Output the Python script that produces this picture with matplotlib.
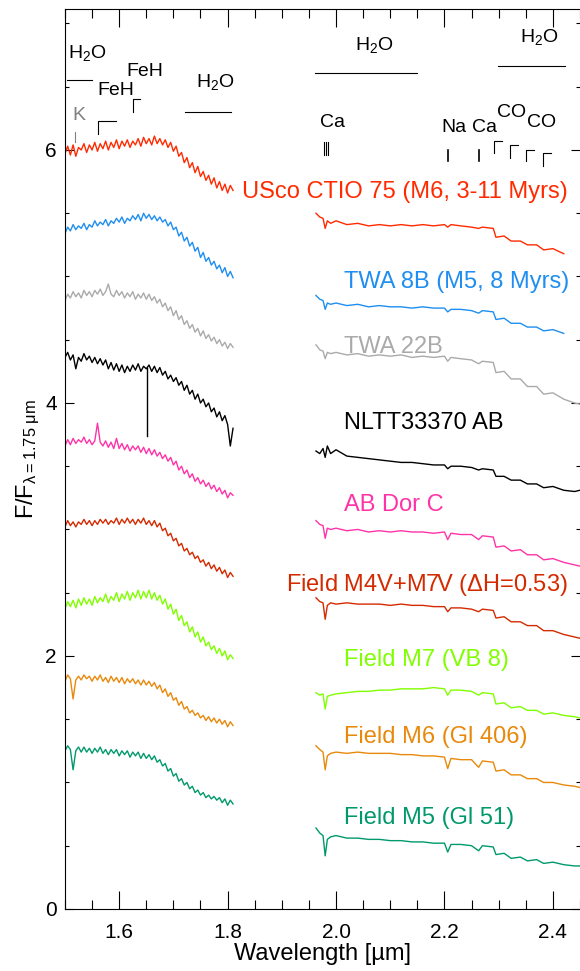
import matplotlib
matplotlib.use("Agg")
import matplotlib.pyplot as plt
import numpy as np

plt.rcParams['font.family'] = ['Liberation Sans', 'DejaVu Sans']
plt.rcParams['mathtext.fontset'] = 'custom'
plt.rcParams['mathtext.rm'] = 'Liberation Sans'
plt.rcParams['mathtext.it'] = 'Liberation Sans'

# wavelength grids (micron)
wl_h = [1.500, 1.505, 1.510, 1.515, 1.520, 1.525, 1.530, 1.535, 1.540, 1.545,
        1.550, 1.555, 1.560, 1.565, 1.570, 1.575, 1.580, 1.585, 1.590, 1.595,
        1.600, 1.605, 1.610, 1.615, 1.620, 1.625, 1.630, 1.635, 1.640, 1.645,
        1.650, 1.655, 1.660, 1.665, 1.670, 1.675, 1.680, 1.685, 1.690, 1.695,
        1.700, 1.705, 1.710, 1.715, 1.720, 1.725, 1.730, 1.735, 1.740, 1.745,
        1.750, 1.755, 1.760, 1.765, 1.770, 1.775, 1.780, 1.785, 1.790, 1.795,
        1.800, 1.805, 1.810]
wl_k = [1.963, 1.970, 1.976, 1.980, 1.984, 1.990, 2.000, 2.02, 2.04, 2.06,
        2.08, 2.10, 2.12, 2.14, 2.16, 2.18, 2.20, 2.206, 2.212, 2.23,
        2.25, 2.263, 2.27, 2.29, 2.295, 2.31, 2.323, 2.34, 2.353, 2.37,
        2.383, 2.40, 2.42, 2.44, 2.45]
nan = np.nan

# offset fluxes, H band then K band
usco_h = [5.97, 6.03, 5.96, 6.04, 5.95, 6.02, 6.00, 6.05, 5.98, 6.04,
          6.00, 6.06, 5.99, 6.05, 6.01, 6.07, 6.00, 6.06, 6.02, 6.08,
          6.01, 6.07, 6.03, 6.08, 6.02, 6.07, 6.04, 6.09, 6.03, 6.10,
          6.05, 6.09, 6.04, 6.11, 6.05, 6.09, 6.04, 6.08, 6.02, 6.06,
          5.99, 6.03, 5.95, 5.98, 5.90, 5.94, 5.86, 5.90, 5.82, 5.87,
          5.79, 5.83, 5.76, 5.80, 5.73, 5.78, 5.70, 5.75, 5.68, 5.73,
          5.66, 5.72, 5.68]
usco_k = [5.50, 5.47, 5.46, 5.38, 5.44, 5.42, 5.44, 5.41, 5.42, 5.40,
          5.41, 5.40, 5.41, 5.40, 5.41, 5.40, 5.41, 5.39, 5.41, 5.40,
          5.39, 5.38, 5.39, 5.38, 5.31, 5.32, 5.28, 5.28, 5.25, 5.25,
          5.21, 5.22, 5.18, nan, nan]
twa8b_h = [5.34, 5.39, 5.36, 5.41, 5.37, 5.40, 5.38, 5.42, 5.37, 5.41,
           5.39, 5.44, 5.40, 5.43, 5.41, 5.45, 5.40, 5.44, 5.42, 5.46,
           5.43, 5.47, 5.42, 5.46, 5.44, 5.48, 5.45, 5.49, 5.44, 5.50,
           5.46, 5.49, 5.45, 5.48, 5.44, 5.47, 5.43, 5.45, 5.40, 5.43,
           5.37, 5.39, 5.32, 5.35, 5.28, 5.31, 5.24, 5.27, 5.20, 5.23,
           5.15, 5.19, 5.12, 5.15, 5.09, 5.12, 5.06, 5.09, 5.03, 5.07,
           5.00, 5.04, 4.99]
twa8b_k = [4.85, 4.82, 4.81, 4.74, 4.79, 4.78, 4.79, 4.77, 4.78, 4.76,
           4.77, 4.76, 4.76, 4.75, 4.76, 4.75, 4.75, 4.72, 4.74, 4.74,
           4.73, 4.71, 4.73, 4.72, 4.66, 4.67, 4.63, 4.63, 4.60, 4.60,
           4.57, 4.58, 4.55, nan, nan]
twa22b_h = [4.81, 4.86, 4.83, 4.88, 4.84, 4.87, 4.83, 4.89, 4.85, 4.88,
            4.84, 4.89, 4.86, 4.90, 4.85, 4.88, 4.94, 4.86, 4.84, 4.89,
            4.85, 4.88, 4.83, 4.87, 4.84, 4.88, 4.82, 4.86, 4.83, 4.87,
            4.82, 4.86, 4.81, 4.84, 4.79, 4.82, 4.76, 4.79, 4.73, 4.76,
            4.69, 4.73, 4.66, 4.69, 4.62, 4.65, 4.59, 4.62, 4.56, 4.59,
            4.53, 4.57, 4.51, 4.54, 4.49, 4.52, 4.47, 4.50, 4.45, 4.48,
            4.43, 4.47, 4.44]
twa22b_k = [4.46, 4.42, 4.41, 4.35, 4.40, 4.39, 4.40, 4.38, 4.39, 4.37,
            4.38, 4.37, 4.38, 4.36, 4.37, 4.36, 4.37, 4.33, 4.36, 4.35,
            4.34, 4.31, 4.33, 4.32, 4.24, 4.25, 4.19, 4.19, 4.13, 4.13,
            4.07, 4.08, 4.03, 4.00, 3.99]
nltt_h = [4.36, 4.40, 4.34, 4.38, 4.27, 4.36, 4.33, 4.39, 4.34, 4.37,
          4.32, 4.36, 4.31, 4.35, 4.30, 4.34, 4.27, 4.32, 4.26, 4.31,
          4.25, 4.30, 4.24, 4.29, 4.25, 4.30, 4.26, 4.31, 4.25, 4.29,
          4.27, 4.30, 4.25, 4.29, 4.24, 4.28, 4.22, 4.25, 4.19, 4.22,
          4.17, 4.20, 4.14, 4.17, 4.10, 4.14, 4.07, 4.10, 4.03, 4.07,
          4.00, 4.03, 3.97, 4.00, 3.93, 3.96, 3.89, 3.93, 3.86, 3.90,
          3.83, 3.66, 3.80]
nltt_k = [3.62, 3.60, 3.64, 3.57, 3.66, 3.60, 3.63, 3.58, 3.57, 3.56,
          3.55, 3.54, 3.53, 3.53, 3.52, 3.51, 3.51, 3.48, 3.50, 3.50,
          3.49, 3.47, 3.48, 3.47, 3.42, 3.42, 3.39, 3.39, 3.36, 3.36,
          3.33, 3.34, 3.31, 3.30, 3.31]
nltt_spike_wl = [1.651, 1.651]
nltt_spike_f = [4.28, 3.74]
abdor_h = [3.66, 3.71, 3.67, 3.72, 3.68, 3.71, 3.69, 3.73, 3.68, 3.71,
           3.67, 3.70, 3.84, 3.69, 3.66, 3.70, 3.65, 3.69, 3.64, 3.72,
           3.64, 3.68, 3.63, 3.67, 3.62, 3.66, 3.63, 3.66, 3.61, 3.65,
           3.60, 3.64, 3.59, 3.63, 3.58, 3.61, 3.56, 3.59, 3.54, 3.57,
           3.51, 3.54, 3.47, 3.50, 3.44, 3.47, 3.41, 3.44, 3.38, 3.41,
           3.36, 3.39, 3.34, 3.37, 3.32, 3.35, 3.30, 3.33, 3.28, 3.31,
           3.25, 3.29, 3.27]
abdor_k = [3.07, 3.04, 3.03, 2.93, 3.01, 3.00, 3.01, 2.99, 3.00, 2.98,
           2.99, 2.98, 2.99, 2.98, 2.98, 2.97, 2.98, 2.92, 2.97, 2.96,
           2.96, 2.92, 2.95, 2.94, 2.86, 2.87, 2.83, 2.84, 2.80, 2.80,
           2.76, 2.77, 2.74, 2.72, 2.71]
m4m7_h = [3.02, 3.07, 3.03, 3.06, 3.02, 3.06, 3.04, 3.08, 3.04, 3.07,
          3.03, 3.07, 3.04, 3.08, 3.05, 3.08, 3.04, 3.07, 3.05, 3.09,
          3.04, 3.08, 3.05, 3.09, 3.05, 3.08, 3.04, 3.08, 3.05, 3.09,
          3.04, 3.07, 3.03, 3.07, 3.02, 3.05, 2.99, 3.01, 2.95, 2.97,
          2.91, 2.93, 2.87, 2.89, 2.83, 2.85, 2.80, 2.82, 2.77, 2.79,
          2.74, 2.76, 2.71, 2.74, 2.69, 2.72, 2.67, 2.70, 2.65, 2.68,
          2.62, 2.66, 2.63]
m4m7_k = [2.46, 2.43, 2.42, 2.29, 2.40, 2.42, 2.41, 2.42, 2.41, 2.41,
          2.41, 2.40, 2.41, 2.40, 2.40, 2.39, 2.39, 2.35, 2.38, 2.38,
          2.37, 2.35, 2.37, 2.36, 2.30, 2.31, 2.27, 2.27, 2.24, 2.24,
          2.20, 2.20, 2.17, 2.15, 2.14]
vb8_h = [2.37, 2.43, 2.39, 2.44, 2.38, 2.45, 2.40, 2.46, 2.41, 2.45,
         2.40, 2.47, 2.42, 2.46, 2.43, 2.49, 2.42, 2.47, 2.44, 2.50,
         2.43, 2.49, 2.45, 2.51, 2.44, 2.50, 2.46, 2.52, 2.45, 2.51,
         2.46, 2.52, 2.45, 2.50, 2.44, 2.48, 2.41, 2.45, 2.37, 2.41,
         2.33, 2.37, 2.28, 2.32, 2.24, 2.27, 2.19, 2.23, 2.15, 2.19,
         2.11, 2.15, 2.08, 2.11, 2.05, 2.08, 2.02, 2.06, 2.00, 2.04,
         1.97, 2.01, 1.98]
vb8_k = [1.71, 1.69, 1.70, 1.58, 1.68, 1.69, 1.70, 1.71, 1.72, 1.72,
         1.73, 1.73, 1.74, 1.74, 1.74, 1.75, 1.74, 1.69, 1.73, 1.73,
         1.72, 1.69, 1.71, 1.70, 1.62, 1.63, 1.59, 1.60, 1.57, 1.57,
         1.54, 1.55, 1.53, 1.52, 1.51]
gl406_h = [1.80, 1.85, 1.82, 1.66, 1.81, 1.84, 1.81, 1.85, 1.82, 1.84,
           1.80, 1.84, 1.81, 1.85, 1.80, 1.83, 1.79, 1.84, 1.80, 1.83,
           1.79, 1.83, 1.78, 1.82, 1.79, 1.82, 1.78, 1.81, 1.77, 1.81,
           1.77, 1.80, 1.76, 1.79, 1.74, 1.77, 1.71, 1.74, 1.68, 1.71,
           1.65, 1.67, 1.61, 1.64, 1.58, 1.60, 1.55, 1.57, 1.53, 1.55,
           1.51, 1.53, 1.49, 1.52, 1.48, 1.51, 1.47, 1.50, 1.46, 1.49,
           1.44, 1.48, 1.45]
gl406_k = [1.29, 1.26, 1.24, 1.10, 1.21, 1.23, 1.24, 1.23, 1.24, 1.23,
           1.23, 1.23, 1.22, 1.22, 1.21, 1.21, 1.20, 1.11, 1.19, 1.18,
           1.18, 1.12, 1.17, 1.16, 1.09, 1.10, 1.06, 1.06, 1.03, 1.03,
           1.00, 1.00, 0.98, 0.97, 0.96]
gl51_h = [1.25, 1.29, 1.26, 1.10, 1.25, 1.28, 1.24, 1.28, 1.24, 1.27,
          1.23, 1.27, 1.24, 1.28, 1.23, 1.26, 1.22, 1.26, 1.23, 1.26,
          1.21, 1.25, 1.22, 1.25, 1.20, 1.24, 1.21, 1.24, 1.19, 1.23,
          1.19, 1.22, 1.18, 1.21, 1.16, 1.18, 1.13, 1.15, 1.09, 1.11,
          1.05, 1.07, 1.01, 1.03, 0.98, 1.00, 0.95, 0.97, 0.92, 0.94,
          0.90, 0.92, 0.88, 0.90, 0.87, 0.89, 0.86, 0.88, 0.84, 0.87,
          0.82, 0.86, 0.83]
gl51_k = [0.64, 0.60, 0.58, 0.42, 0.55, 0.57, 0.58, 0.56, 0.56, 0.55,
          0.55, 0.54, 0.54, 0.53, 0.53, 0.52, 0.52, 0.45, 0.51, 0.51,
          0.50, 0.46, 0.50, 0.49, 0.43, 0.44, 0.40, 0.41, 0.38, 0.39,
          0.36, 0.37, 0.35, 0.34, 0.34]

names = ["USco CTIO 75 (M6, 3-11 Myrs)", "TWA 8B (M5, 8 Myrs)", "TWA 22B",
         "NLTT33370 AB", "AB Dor C", "Field M4V+M7V ($\\Delta$H=0.53)",
         "Field M7 (VB 8)", "Field M6 (Gl 406)", "Field M5 (Gl 51)"]
colors = ["#ff2a00", "#1e8ef0", "#aaaaaa", "#000000", "#ff33a8",
          "#d42a00", "#80ff00", "#e8890c", "#00996b"]
label_y = [5.67, 4.96, 4.44, 3.84, 3.19, 2.56, 1.97, 1.36, 0.72]
h_band = [usco_h, twa8b_h, twa22b_h, nltt_h, abdor_h, m4m7_h, vb8_h, gl406_h, gl51_h]
k_band = [usco_k, twa8b_k, twa22b_k, nltt_k, abdor_k, m4m7_k, vb8_k, gl406_k, gl51_k]

fig = plt.figure(figsize=(5.8, 9.71), dpi=100)
ax = fig.add_axes([0.112, 0.0639, 0.888, 0.9269])

for i in range(len(names)):
    ax.plot(wl_h, h_band[i], color=colors[i], lw=1.0)
    ax.plot(wl_k, k_band[i], color=colors[i], lw=1.0)
    if i in (0, 5):
        ax.text(2.428, label_y[i], names[i], color=colors[i], fontsize=17,
                ha='right', va='center')
    else:
        ax.text(2.015, label_y[i], names[i], color=colors[i], fontsize=17,
                ha='left', va='center')
ax.plot(nltt_spike_wl, nltt_spike_f, color='black', lw=1.0)

# feature annotations
fs = 14
h2o = 'H$_\\mathregular{2}$O'
ax.text(1.506, 6.77, h2o, fontsize=fs, ha='left', va='center')
ax.plot([1.503, 1.550], [6.55, 6.55], color='k', lw=0.8)
ax.text(1.777, 6.54, h2o, fontsize=fs, ha='center', va='center')
ax.plot([1.721, 1.806], [6.30, 6.30], color='k', lw=0.8)
ax.text(2.071, 6.83, h2o, fontsize=fs, ha='center', va='center')
ax.plot([1.961, 2.150], [6.61, 6.61], color='k', lw=0.8)
ax.text(2.375, 6.89, h2o, fontsize=fs, ha='center', va='center')
ax.plot([2.299, 2.422], [6.66, 6.66], color='k', lw=0.8)

ax.text(1.525, 6.27, "K", fontsize=fs, color='gray', ha='center', va='center')
ax.plot([1.518, 1.518], [6.06, 6.14], color='gray', lw=0.8)

ax.text(1.648, 6.62, "FeH", fontsize=fs, ha='center', va='center')
ax.plot([1.626, 1.626, 1.639], [6.30, 6.40, 6.40], color='k', lw=0.8)
ax.text(1.594, 6.47, "FeH", fontsize=fs, ha='center', va='center')
ax.plot([1.561, 1.561, 1.594], [6.13, 6.23, 6.23], color='k', lw=0.8)

ca_lines = [1.978, 1.982, 1.986]
ax.text(1.994, 6.22, "Ca", fontsize=fs, ha='center', va='center')
for w in ca_lines:
    ax.plot([w, w], [5.96, 6.06], color='k', lw=0.8)
ax.text(2.218, 6.18, "Na", fontsize=fs, ha='center', va='center')
ax.plot([2.207, 2.207], [5.91, 6.00], color='k', lw=1.2)
ax.text(2.274, 6.18, "Ca", fontsize=fs, ha='center', va='center')
ax.plot([2.264, 2.264], [5.91, 6.00], color='k', lw=1.2)
ax.text(2.323, 6.30, "CO", fontsize=fs, ha='center', va='center')
ax.text(2.380, 6.22, "CO", fontsize=fs, ha='center', va='center')

co_heads = [2.292, 2.320, 2.350, 2.382]
co_top = [6.07, 6.04, 6.00, 5.98]
co_bot = [5.98, 5.94, 5.91, 5.87]
for w, t, b in zip(co_heads, co_top, co_bot):
    ax.plot([w, w, w + 0.015], [b, t, t], color='k', lw=0.8)

ax.set_xlim(1.5, 2.445)
ax.set_ylim(0, 7.115)
ax.set_xticks([1.6, 1.8, 2.0, 2.2, 2.4])
ax.set_xticklabels(["1.6", "1.8", "2.0", "2.2", "2.4"])
ax.set_xticks(np.arange(1.5, 2.45, 0.05), minor=True)
ax.set_yticks([0, 2, 4, 6])
ax.set_yticks(np.arange(0, 7.1, 0.5), minor=True)
ax.tick_params(axis='both', which='both', direction='in', top=True, right=True,
               labelsize=15, width=0.8)
ax.tick_params(axis='x', which='major', length=13, pad=10)
ax.tick_params(axis='x', which='minor', length=6.5)
ax.tick_params(axis='y', which='major', length=6.5, pad=6)
ax.tick_params(axis='y', which='minor', length=3)
ax.spines['right'].set_visible(False)
for s in ['left', 'bottom', 'top']:
    ax.spines[s].set_linewidth(0.8)

ax.set_xlabel("Wavelength [µm]", fontsize=17, labelpad=1)
ax.set_ylabel("F/F$_{\\mathregular{\\lambda=1.75\\ \\mu m}}$", fontsize=17, labelpad=2)

fig.savefig("out.png", dpi=100)
